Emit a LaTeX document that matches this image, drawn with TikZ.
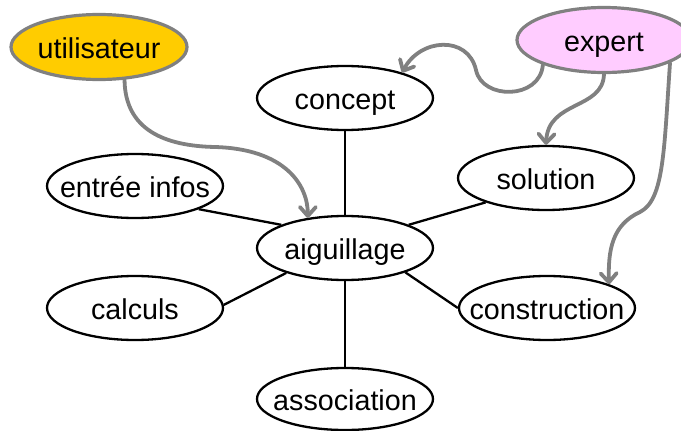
\documentclass[tikz,border=0pt]{standalone}
\usepackage{fontspec}
\setmainfont{Liberation Sans}
\usetikzlibrary{shapes.geometric,arrows.meta}
\definecolor{flowgray}{HTML}{808080}
\definecolor{userfill}{HTML}{FFCC00}
\definecolor{expertfill}{HTML}{FFCCFF}
\newcommand{\bubbletext}[1]{\makebox[0pt]{#1}}
\tikzset{
  bubble/.style={ellipse, draw=black, line width=2.3pt, inner sep=0pt,
    minimum width=176pt, minimum height=64pt,
    text height=23pt, text depth=0pt,
    font=\fontsize{28.7}{32}\selectfont},
  actor/.style={bubble, draw=flowgray, line width=3.2pt, minimum height=65pt},
  link/.style={draw=black, line width=2.3pt},
  flow/.style={draw=flowgray, line width=3.8pt, line cap=round,
    -{Straight Barb[length=9pt,width=16pt,line cap=round,line join=round]}}
}
\begin{document}
\begin{tikzpicture}[x=1pt, y=-1pt]
  \useasboundingbox (0,0) rectangle (681,431);

  % actors
  \node[actor, fill=userfill]   (util)   at (99,47)  {\bubbletext{utilisateur}};
  \node[actor, fill=expertfill, minimum width=174pt] (expert) at (604,40) {\bubbletext{expert}};

  % modules
  \node[bubble] (concept) at (345,98)  {\bubbletext{concept}};
  \node[bubble] (entree)  at (135,186) {\bubbletext{entrée infos}};
  \node[bubble] (solution) at (546,178) {\bubbletext{solution}};
  \node[bubble] (aig)     at (345,248) {\bubbletext{aiguillage}};
  \node[bubble] (calc)    at (135,308) {\bubbletext{calculs}};
  \node[bubble] (constr)  at (547,308) {\bubbletext{construction}};
  \node[bubble, minimum height=62pt] (assoc) at (345,399) {\bubbletext{association}};

  % spokes from the dispatcher
  \draw[link] (aig.90)  -- (concept.270);
  \draw[link] (aig.270) -- (assoc.90);
  \draw[link] (aig.160) -- (entree.340);
  \draw[link] (aig.203) -- (calc.2);
  \draw[link] (aig.20)  -- (solution.202);
  \draw[link] (aig.338) -- (constr.180);

  % inputs from the actors
  \draw[flow] (util.-52) .. controls (125,130) and (165,146) .. (215,147)
                         .. controls (285,149) and (308,185) .. (aig.141);
  \draw[flow] (expert.202) .. controls (540,100) and (482,100) .. (476,70)
                           .. controls (468,35) and (420,38) .. (concept.24);
  \draw[flow] (expert.270) .. controls (603,110) and (548,100) .. (solution.90);
  \draw[flow] (expert.341) .. controls (664,150) and (664,200) .. (640,212)
                           .. controls (612,225) and (608,250) .. (constr.21);
\end{tikzpicture}
\end{document}
